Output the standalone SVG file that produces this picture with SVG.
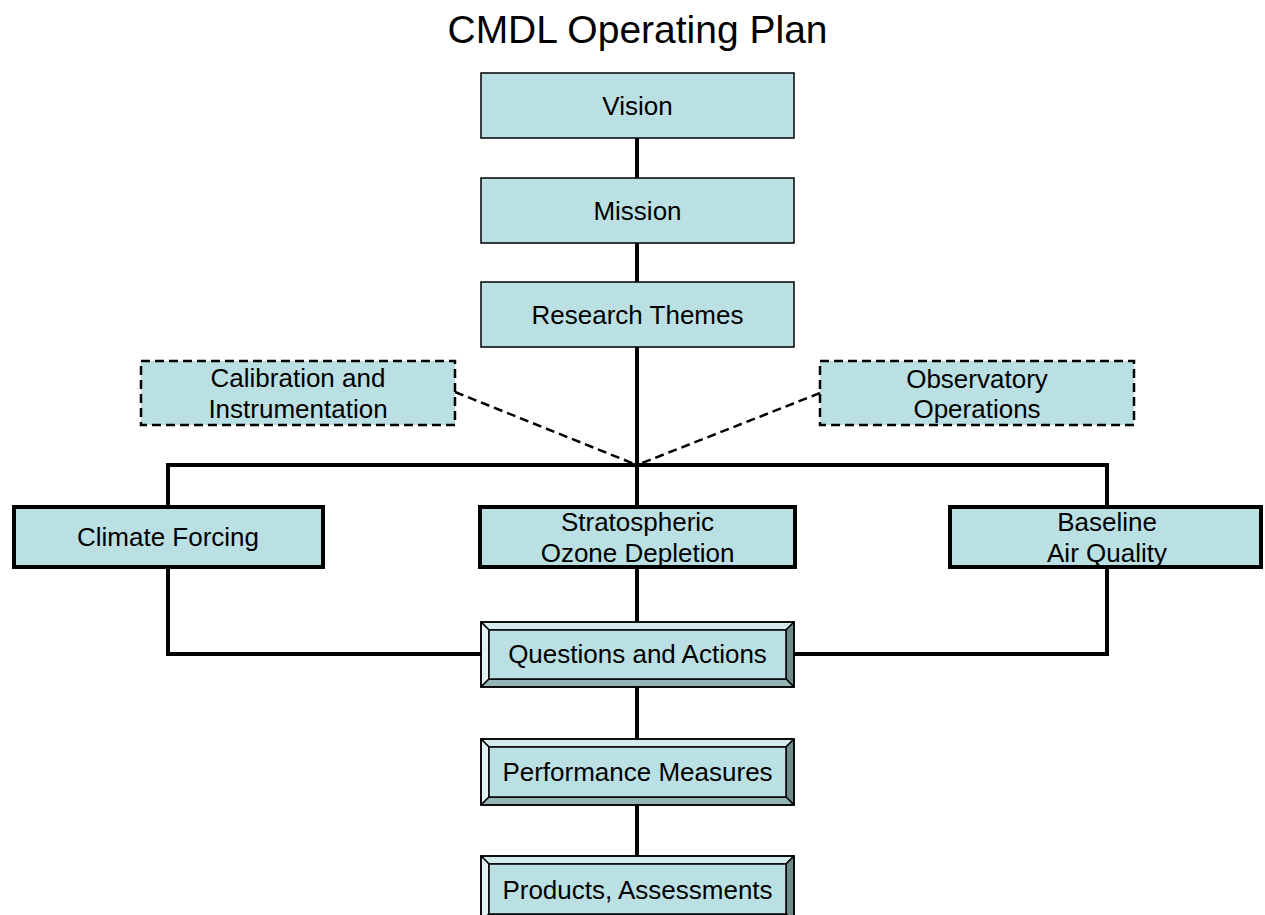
<svg xmlns="http://www.w3.org/2000/svg" width="1265" height="915" viewBox="0 0 1265 915">
<style>
.t{font-family:"Liberation Sans",Arial,sans-serif;font-size:26px;fill:#000;text-anchor:middle}
.title{font-family:"Liberation Sans",Arial,sans-serif;font-size:39px;fill:#000;text-anchor:middle}
.plain{fill:#BBE0E3;stroke:#000;stroke-width:1.5}
.thick{fill:#BBE0E3;stroke:#000;stroke-width:4}
.dash{fill:#BBE0E3;stroke:#000;stroke-width:2.5;stroke-dasharray:9 5}
.bv{stroke:#000;stroke-width:1.5;stroke-linejoin:round}
.conn{stroke:#000;stroke-width:4;fill:none}
.dconn{stroke:#000;stroke-width:2.5;stroke-dasharray:9 5;fill:none}
</style>
<rect width="1265" height="915" fill="#fff"/>
<text class="title" x="637.5" y="43">CMDL Operating Plan</text>
<g id="connectors">
<line class="conn" x1="637" y1="138" x2="637" y2="178"/>
<line class="conn" x1="637" y1="243" x2="637" y2="282"/>
<line class="conn" x1="637" y1="347" x2="637" y2="505"/>
<polyline class="conn" points="168,505 168,465 1107,465 1107,505"/>
<polyline class="conn" points="168,569 168,654 481,654"/>
<polyline class="conn" points="1107,569 1107,654 794,654"/>
<line class="conn" x1="637" y1="569" x2="637" y2="622"/>
<line class="conn" x1="637" y1="687" x2="637" y2="738"/>
<line class="conn" x1="637" y1="805" x2="637" y2="856"/>
<line class="dconn" x1="455" y1="392" x2="637" y2="465"/>
<line class="dconn" x1="820" y1="393" x2="637" y2="465"/>
</g>
<g id="vision">
<rect class="plain" x="481" y="73" width="313" height="65"/>
<text class="t" x="637.5" y="115">Vision</text>
</g>
<g id="mission">
<rect class="plain" x="481" y="178" width="313" height="65"/>
<text class="t" x="637.5" y="220">Mission</text>
</g>
<g id="research-themes">
<rect class="plain" x="481" y="282" width="313" height="65"/>
<text class="t" x="637.5" y="324">Research Themes</text>
</g>
<g id="calibration">
<rect class="dash" x="141" y="361" width="314" height="64"/>
<text class="t" x="298" y="387">Calibration and</text>
<text class="t" x="298" y="418">Instrumentation</text>
</g>
<g id="observatory">
<rect class="dash" x="820" y="361" width="314" height="64"/>
<text class="t" x="977" y="388">Observatory</text>
<text class="t" x="977" y="418">Operations</text>
</g>
<g id="climate-forcing">
<rect class="thick" x="14" y="507" width="309" height="60"/>
<text class="t" x="168" y="546">Climate Forcing</text>
</g>
<g id="stratospheric">
<rect class="thick" x="480" y="507" width="315" height="60"/>
<text class="t" x="637.5" y="531">Stratospheric</text>
<text class="t" x="637.5" y="562">Ozone Depletion</text>
</g>
<g id="baseline">
<rect class="thick" x="950" y="507" width="311" height="60"/>
<text class="t" x="1107" y="531">Baseline</text>
<text class="t" x="1107" y="562">Air Quality</text>
</g>
<g id="questions">
<rect x="481" y="622" width="313" height="65" fill="#BBE0E3"/>
<polygon class="bv" fill="#D3EBED" points="481,622 794,622 786,630 489,630"/>
<polygon class="bv" fill="#E2F2F3" points="481,622 489,630 489,679 481,687"/>
<polygon class="bv" fill="#6F8B8D" points="794,622 794,687 786,679 786,630"/>
<polygon class="bv" fill="#95B4B6" points="481,687 489,679 786,679 794,687"/>
<rect x="489" y="630" width="297" height="49" fill="#BBE0E3" stroke="#000" stroke-width="1.5"/>
<rect x="481" y="622" width="313" height="65" fill="none" stroke="#000" stroke-width="1.5"/>
<text class="t" x="637.5" y="663">Questions and Actions</text>
</g>
<g id="performance">
<rect x="481" y="739" width="313" height="66" fill="#BBE0E3"/>
<polygon class="bv" fill="#D3EBED" points="481,739 794,739 786,747 489,747"/>
<polygon class="bv" fill="#E2F2F3" points="481,739 489,747 489,797 481,805"/>
<polygon class="bv" fill="#6F8B8D" points="794,739 794,805 786,797 786,747"/>
<polygon class="bv" fill="#95B4B6" points="481,805 489,797 786,797 794,805"/>
<rect x="489" y="747" width="297" height="50" fill="#BBE0E3" stroke="#000" stroke-width="1.5"/>
<rect x="481" y="739" width="313" height="66" fill="none" stroke="#000" stroke-width="1.5"/>
<text class="t" x="637.5" y="781">Performance Measures</text>
</g>
<g id="products">
<rect x="481" y="856" width="313" height="66" fill="#BBE0E3"/>
<polygon class="bv" fill="#D3EBED" points="481,856 794,856 786,864 489,864"/>
<polygon class="bv" fill="#E2F2F3" points="481,856 489,864 489,914 481,922"/>
<polygon class="bv" fill="#6F8B8D" points="794,856 794,922 786,914 786,864"/>
<polygon class="bv" fill="#95B4B6" points="481,922 489,914 786,914 794,922"/>
<rect x="489" y="864" width="297" height="50" fill="#BBE0E3" stroke="#000" stroke-width="1.5"/>
<rect x="481" y="856" width="313" height="66" fill="none" stroke="#000" stroke-width="1.5"/>
<text class="t" x="637.5" y="899">Products, Assessments</text>
</g>
</svg>
